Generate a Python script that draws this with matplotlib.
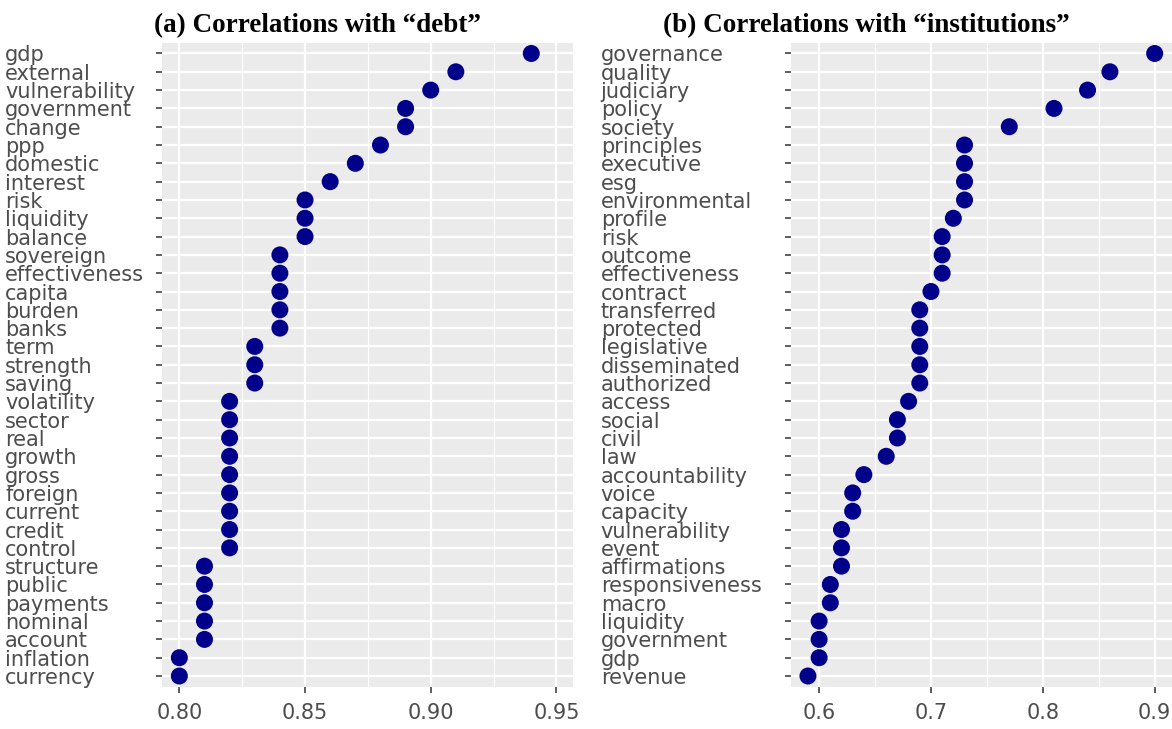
import numpy as np
from matplotlib import pyplot as plt

debt_terms = ["gdp", "external", "vulnerability", "government", "change", "ppp",
              "domestic", "interest", "risk", "liquidity", "balance", "sovereign",
              "effectiveness", "capita", "burden", "banks", "term", "strength",
              "saving", "volatility", "sector", "real", "growth", "gross",
              "foreign", "current", "credit", "control", "structure", "public",
              "payments", "nominal", "account", "inflation", "currency"]
debt_corr = [0.94, 0.91, 0.90, 0.89, 0.89, 0.88, 0.87, 0.86, 0.85, 0.85, 0.85,
             0.84, 0.84, 0.84, 0.84, 0.84, 0.83, 0.83, 0.83, 0.82, 0.82, 0.82,
             0.82, 0.82, 0.82, 0.82, 0.82, 0.82, 0.81, 0.81, 0.81, 0.81, 0.81,
             0.80, 0.80]
debt_ticks = [0.80, 0.85, 0.90, 0.95]

inst_terms = ["governance", "quality", "judiciary", "policy", "society",
              "principles", "executive", "esg", "environmental", "profile",
              "risk", "outcome", "effectiveness", "contract", "transferred",
              "protected", "legislative", "disseminated", "authorized", "access",
              "social", "civil", "law", "accountability", "voice", "capacity",
              "vulnerability", "event", "affirmations", "responsiveness", "macro",
              "liquidity", "government", "gdp", "revenue"]
inst_corr = [0.90, 0.86, 0.84, 0.81, 0.77, 0.73, 0.73, 0.73, 0.73, 0.72, 0.71,
             0.71, 0.71, 0.70, 0.69, 0.69, 0.69, 0.69, 0.69, 0.68, 0.67, 0.67,
             0.66, 0.64, 0.63, 0.63, 0.62, 0.62, 0.62, 0.61, 0.61, 0.60, 0.60,
             0.60, 0.59]
inst_ticks = [0.6, 0.7, 0.8, 0.9]

plt.rcParams['font.family'] = ['DejaVu Sans']

def dot_panel(ax, terms, corr, ticks, xlim, fmt, label_pad, title, title_x):
  n = len(terms)
  ypos = np.arange(n)[::-1]
  ax.set_facecolor('#EBEBEB')
  for s in ax.spines.values():
    s.set_visible(False)

  # grey panel with white grid, ggplot-ish
  step = ticks[1] - ticks[0]
  minor = [ticks[0] - step / 2] + [t + step / 2 for t in ticks]
  for m in minor:
    ax.axvline(m, color='white', lw=0.8, zorder=1)
  for t in ticks:
    ax.axvline(t, color='white', lw=1.6, zorder=1)
  for y in ypos:
    ax.axhline(y, color='white', lw=1.6, zorder=1)

  ax.scatter(corr, ypos, s=150, color='#00008B', edgecolors='none', zorder=3)

  ax.set_xlim(*xlim)
  ax.set_ylim(-0.6, n - 1 + 0.6)
  ax.set_xticks(ticks, [fmt.format(t) for t in ticks])
  ax.set_yticks(ypos, terms)
  ax.tick_params(axis='both', colors='#333333', length=4.3, width=1.1,
                 labelcolor='#4D4D4D', labelsize=15)
  ax.tick_params(axis='x', pad=7.5)
  ax.tick_params(axis='y', pad=label_pad)
  for lbl in ax.get_yticklabels():
    lbl.set_horizontalalignment('left')

  fig.text(title_x, 1 - 32 / 729, title, ha='center', va='baseline',
           family='Liberation Serif', weight='bold', fontsize=19.5, color='black')

fig = plt.figure(figsize=(11.72, 7.29), dpi=100)
ax1 = fig.add_axes([162 / 1172, 1 - 687 / 729, (573 - 162) / 1172, (687 - 42.5) / 729])
ax2 = fig.add_axes([790.6 / 1172, 1 - 687 / 729, (1172 - 790.6) / 1172, (687 - 42.5) / 729])

dot_panel(ax1, debt_terms, debt_corr, debt_ticks, (0.7931, 0.9566), '{:.2f}',
          (156 - 5) * 0.72, '(a) Correlations with \u201cdebt\u201d', 317.5 / 1172)
dot_panel(ax2, inst_terms, inst_corr, inst_ticks, (0.5745, 0.9155), '{:.1f}',
          (784 - 600) * 0.72, '(b) Correlations with \u201cinstitutions\u201d', 866 / 1172)

plt.savefig('out.png', dpi=100)
